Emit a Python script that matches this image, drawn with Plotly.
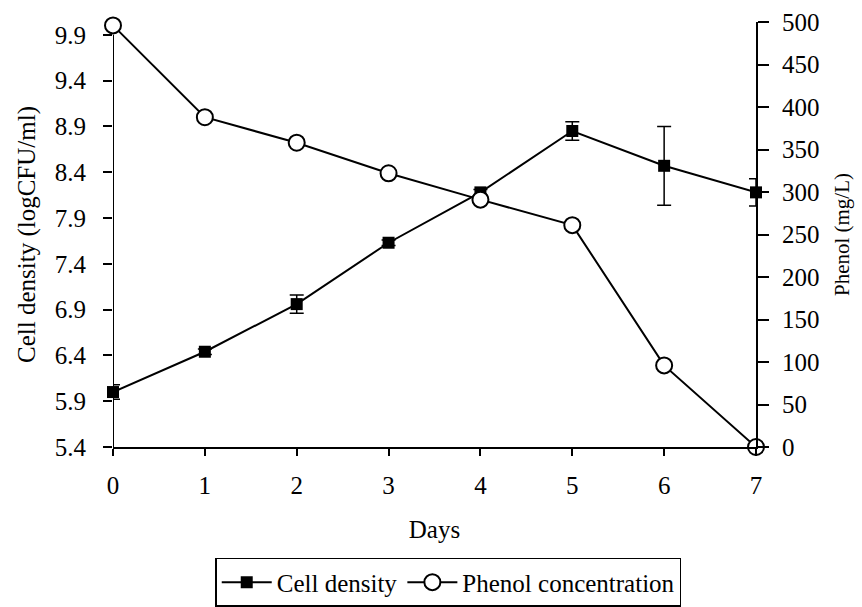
import plotly.graph_objects as go

# ---- data ----
days = [0, 1, 2, 3, 4, 5, 6, 7]
cell_density = [6.00, 6.44, 6.96, 7.63, 8.18, 8.85, 8.47, 8.18]
cell_err = [0.08, 0.03, 0.10, 0.03, 0.03, 0.10, 0.43, 0.15]
phenol = [496, 388, 358, 322, 291, 261, 96, 0]

left_ticks = [5.4, 5.9, 6.4, 6.9, 7.4, 7.9, 8.4, 8.9, 9.4, 9.9]
left_ticktext = ["5.4", "5.9", "6.4", "6.9", "7.4", "7.9", "8.4", "8.9", "9.4", "9.9"]
right_ticks = [0, 50, 100, 150, 200, 250, 300, 350, 400, 450, 500]
x_ticks = [0, 1, 2, 3, 4, 5, 6, 7]

FONT = "Liberation Serif"
left_range = [5.4, 10.04]
right_range = [0, 500]
x_range = [0, 7]

fig = go.Figure()
fig.add_trace(go.Scatter(
    x=days, y=cell_density, name="Cell density", mode="lines+markers",
    line=dict(color="black", width=2),
    marker=dict(symbol="square", size=12, color="black"),
    error_y=dict(type="data", array=cell_err, color="black", thickness=1.5, width=7),
    yaxis="y", cliponaxis=False,
))
fig.add_trace(go.Scatter(
    x=days, y=phenol, name="Phenol concentration", mode="lines+markers",
    line=dict(color="black", width=2),
    marker=dict(symbol="circle", size=16, color="white", line=dict(color="black", width=2)),
    yaxis="y2", cliponaxis=False,
))

tickfont = dict(family=FONT, size=25, color="black")

fig.update_layout(
    width=862, height=607,
    margin=dict(l=113, r=106, t=22, b=160, autoexpand=False),
    paper_bgcolor="white", plot_bgcolor="white",
    font=dict(family=FONT, size=25, color="black"),
    showlegend=True,
    legend=dict(
        orientation="h", x=0.159, xanchor="left", y=-0.261, yanchor="top",
        bordercolor="black", borderwidth=1.5, bgcolor="white",
        font=dict(family=FONT, size=25, color="black"),
        itemwidth=50, tracegroupgap=0,
    ),
    xaxis=dict(
        range=x_range, tickvals=x_ticks, ticks="outside", ticklen=7, tickwidth=2,
        tickcolor="black", showline=True, linecolor="black", linewidth=2,
        showgrid=False, zeroline=False, tickfont=tickfont, ticklabelstandoff=8,
        title=dict(text="Days", font=dict(family=FONT, size=25), standoff=22),
        automargin=False,
    ),
    xaxis2=dict(
        range=x_range, tickvals=x_ticks, ticks="inside", ticklen=7, tickwidth=2,
        tickcolor="black", overlaying="x", anchor="y", side="bottom",
        showticklabels=False, showline=False, showgrid=False, zeroline=False,
    ),
    yaxis=dict(
        range=left_range, tickvals=left_ticks, ticktext=left_ticktext,
        ticks="outside", ticklen=9, tickwidth=2, tickcolor="black",
        showline=False, showgrid=False, zeroline=False, tickfont=tickfont,
        ticklabelstandoff=12,
        title=dict(text="Cell density (logCFU/ml)", font=dict(family=FONT, size=25), standoff=12),
        automargin=False,
    ),
    yaxis3=dict(
        range=left_range, tickvals=left_ticks, ticks="inside", ticklen=9, tickwidth=2,
        tickcolor="black", overlaying="y", side="left", anchor="x",
        showticklabels=False, showline=False, showgrid=False, zeroline=False,
    ),
    yaxis2=dict(
        range=right_range, tickvals=right_ticks, overlaying="y", side="right", anchor="x",
        ticks="outside", ticklen=11, tickwidth=2, tickcolor="black",
        showline=True, linecolor="black", linewidth=2,
        showgrid=False, zeroline=False, tickfont=tickfont, ticklabelstandoff=8,
        title=dict(text="Phenol (mg/L)", font=dict(family=FONT, size=21), standoff=16),
        automargin=False,
    ),
    yaxis4=dict(
        range=right_range, tickvals=right_ticks, overlaying="y", side="right", anchor="x",
        ticks="inside", ticklen=11, tickwidth=2, tickcolor="black",
        showticklabels=False, showline=False, showgrid=False, zeroline=False,
    ),
)

# left axis line spanning the labelled tick range
fig.add_shape(type="line", xref="x", yref="y",
              x0=x_range[0], x1=x_range[0], y0=left_ticks[0], y1=left_ticks[-1],
              line=dict(color="black", width=2), layer="above")

fig.write_html("out.html")
